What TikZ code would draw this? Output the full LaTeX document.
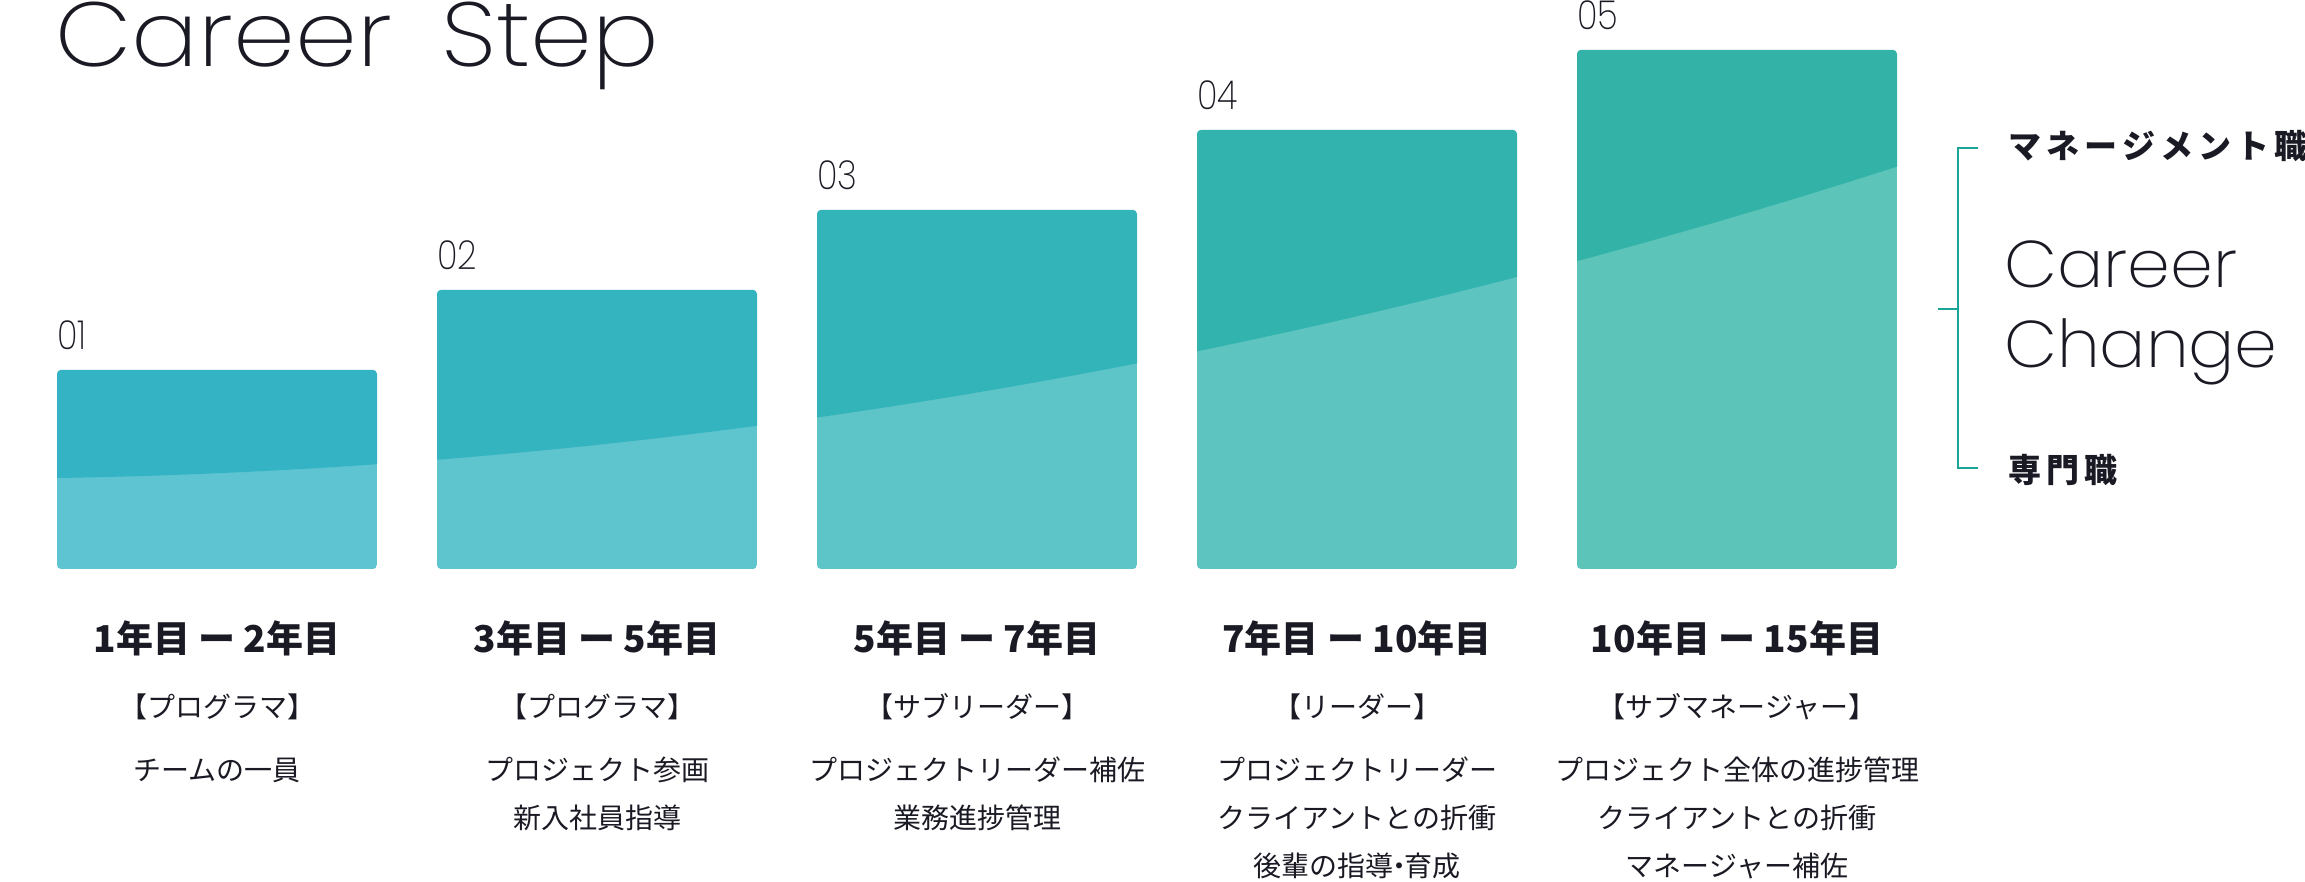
\documentclass[tikz,border=0pt]{standalone}
\usepackage{fontspec}
\setmainfont{Noto Sans CJK JP}
\IfFontExistsTF{Poppins ExtraLight}{\newfontfamily\pop{Poppins ExtraLight}}{\newfontfamily\pop{Poppins Light}}
\IfFontExistsTF{Noto Sans CJK JP Medium}{\newfontfamily\cjkm{Noto Sans CJK JP Medium}}{\newfontfamily\cjkm{Noto Sans CJK JP}[UprightFont=*,BoldFont=*]\def\cjkmb{\bfseries}}
\providecommand\cjkmb{}
\definecolor{txt}{RGB}{26,26,36}
\definecolor{brk}{RGB}{26,165,150}
\definecolor{b1t}{RGB}{52,179,196}
\definecolor{b1l}{RGB}{94,196,210}
\definecolor{b2t}{RGB}{52,180,191}
\definecolor{b2l}{RGB}{94,196,206}
\definecolor{b3t}{RGB}{51,180,185}
\definecolor{b3l}{RGB}{93,196,200}
\definecolor{b4t}{RGB}{51,179,174}
\definecolor{b4l}{RGB}{93,196,192}
\definecolor{b5t}{RGB}{51,179,168}
\definecolor{b5l}{RGB}{93,196,185}
\newcommand\lsp{\hspace{5pt}}
\tikzset{
  num/.style={anchor=base west, inner sep=0pt, text=txt, font=\pop\fontsize{40}{40}\selectfont},
  yr/.style={inner sep=0pt, text=txt, font=\bfseries\fontsize{37}{37}\selectfont},
  role/.style={inner sep=0pt, text=txt, font=\fontsize{28}{28}\selectfont},
  item/.style={inner sep=0pt, text=txt, font=\fontsize{28}{28}\selectfont},
  side/.style={anchor=west, inner sep=0pt, text=txt, font=\bfseries\fontsize{33}{33}\selectfont},
  bline/.style={draw=brk, line width=2pt},
  eng/.style={anchor=base west, inner sep=0pt, text=txt},
}
\begin{document}
\begin{tikzpicture}[x=1pt,y=-1pt]
\useasboundingbox[fill=white] (0,0) rectangle (2305,882);
% title
\node[eng, font=\pop\fontsize{91}{91}\selectfont] (title) at (55,67) {\scalebox{1.09}[1]{Career\hspace{0.5em}Step}};
% boxes
\foreach \i/\xl/\yt in {1/57/370, 2/437/290, 3/817/210, 4/1197/130, 5/1577/50} {
  \pgfmathsetmacro\xr{\xl+320}
  \begin{scope}
    \clip[rounded corners=4pt] (\xl,\yt) rectangle (\xr,569);
    \fill[b\i l] (\xl,\yt) rectangle (\xr,569);
    \fill[b\i t] plot[domain=\xl:\xr, samples=40] (\x,{478.7-0.0071*\x-(0.00911*\x)^2}) -- (\xr,\yt) -- (\xl,\yt) -- cycle;
  \end{scope}
  \node[num] (n\i) at (\xl,\yt-20) {\scalebox{0.85}[1]{0\i}};
}
% year headers
\node[yr] (y1) at (217,638) {1年目 ー 2年目};
\node[yr] (y2) at (597,638) {3年目 ー 5年目};
\node[yr] (y3) at (977,638) {5年目 ー 7年目};
\node[yr] (y4) at (1357,638) {7年目 ー 10年目};
\node[yr] (y5) at (1737,638) {10年目 ー 15年目};
% roles
\node[role] (r1) at (217,707) {【プログラマ】};
\node[role] (r2) at (597,707) {【プログラマ】};
\node[role] (r3) at (977,707) {【サブリーダー】};
\node[role] (r4) at (1357,707) {【リーダー】};
\node[role] (r5) at (1737,707) {【サブマネージャー】};
% items
\node[item] (t1a) at (217,770) {チームの一員};
\node[item] (t2a) at (597,770) {プロジェクト参画};
\node[item] (t2b) at (597,818) {新入社員指導};
\node[item] (t3a) at (977,770) {プロジェクトリーダー補佐};
\node[item] (t3b) at (977,818) {業務進捗管理};
\node[item] (t4a) at (1357,770) {プロジェクトリーダー};
\node[item] (t4b) at (1357,818) {クライアントとの折衝};
\node[item] (t4c) at (1357,866) {後輩の指導\kern-0.3em・\kern-0.3em育成};
\node[item] (t5a) at (1737,770) {プロジェクト全体の進捗管理};
\node[item] (t5b) at (1737,818) {クライアントとの折衝};
\node[item] (t5c) at (1737,866) {マネージャー補佐};
% bracket
\coordinate (bt) at (1978,148);
\coordinate (bb) at (1978,468);
\coordinate (bm) at (1938,309);
\draw[bline] (bt) -- (1958,148) -- (1958,468) -- (bb);
\draw[bline] (bm) -- (1958,309);
\node[side] (mg) at (2008,146) {マ\lsp ネ\lsp ー\lsp ジ\lsp メ\lsp ン\lsp ト\lsp 職};
\node[side] (sp) at (2008,470) {専\lsp 門\lsp 職};
\node[eng, font=\pop\fontsize{66}{66}\selectfont] (cc1) at (2004,288) {\scalebox{1.04}[1]{Career}};
\node[eng, font=\pop\fontsize{66}{66}\selectfont] (cc2) at (2004,368) {\scalebox{1.04}[1]{Change}};
\end{tikzpicture}
\end{document}
